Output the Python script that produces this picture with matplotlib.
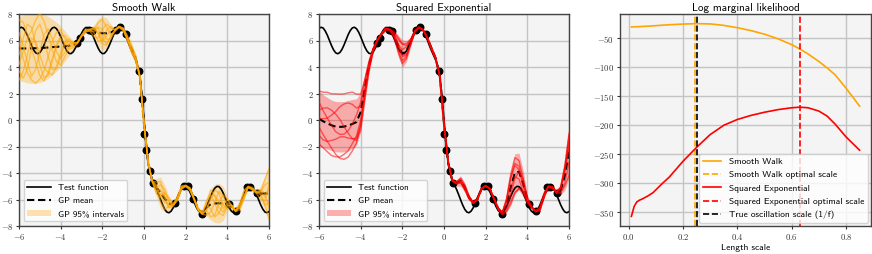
import numpy as np
import matplotlib
matplotlib.use("Agg")
import matplotlib.pyplot as plt
from matplotlib.ticker import FuncFormatter

plt.rcParams.update({
    "font.family": "cmss10",
    "mathtext.fontset": "cm",
    "axes.unicode_minus": False,
})

# ---------------- data ----------------
# test function on x = -6 .. 6 (step 0.1)
x_test = np.linspace(-6, 6, 121)
f_test = [
    6.91, 7.00, 6.94, 6.72, 6.40, 6.01, 5.62, 5.29, 5.07, 5.00,
    5.09, 5.32, 5.66, 6.05, 6.44, 6.75, 6.95, 7.00, 6.89, 6.64,
    6.29, 5.89, 5.51, 5.21, 5.03, 5.01, 5.14, 5.41, 5.77, 6.17,
    6.54, 6.82, 6.98, 6.98, 6.83, 6.54, 6.17, 5.78, 5.42, 5.15,
    5.01, 5.03, 5.21, 5.51, 5.88, 6.28, 6.63, 6.88, 7.00, 6.95,
    6.75, 6.43, 6.04, 5.62, 5.23, 4.88, 4.53, 4.07, 3.27, 1.89,
    0.00,
    -1.89, -3.27, -4.07, -4.53, -4.88, -5.23, -5.62, -6.04, -6.43, -6.75,
    -6.95, -7.00, -6.88, -6.63, -6.28, -5.88, -5.51, -5.21, -5.03, -5.01,
    -5.15, -5.42, -5.78, -6.17, -6.54, -6.83, -6.98, -6.98, -6.82, -6.54,
    -6.17, -5.77, -5.41, -5.14, -5.01, -5.03, -5.21, -5.51, -5.89, -6.29,
    -6.64, -6.89, -7.00, -6.95, -6.75, -6.44, -6.05, -5.66, -5.32, -5.09,
    -5.00, -5.07, -5.29, -5.62, -6.01, -6.40, -6.72, -6.94, -7.00, -6.91,
]

# observed data points
x_obs = [-3.2, -3.05, -2.65, -2.5, -1.35, -1.15, -0.88, -0.23, -0.09, 0.02,
         0.1, 0.29, 0.45, 1.49, 1.9, 2.12, 2.37, 2.77, 4.1, 4.4, 4.95, 5.08, 5.42]
y_obs = [5.82, 6.2, 6.78, 6.7, 6.8, 7.03, 6.48, 3.68, 1.58, -1.05,
         -2.3, -3.86, -4.72, -6.3, -4.97, -4.97, -5.95, -7.1, -6.37, -6.87, -5.04, -5.06, -5.5]

# GP prediction grid x = -6 .. 6 (step 0.2)
x_gp = np.linspace(-6, 6, 61)

# Smooth Walk kernel: mean and 95% half-width
sw_mean = [
    5.40, 5.40, 5.40, 5.41, 5.42, 5.43, 5.45, 5.47, 5.50, 5.52,
    5.55, 5.57, 5.60, 5.65, 5.82, 6.35, 6.75, 6.78, 6.68, 6.60,
    6.55, 6.55, 6.60, 6.75, 7.02, 6.85, 6.20, 5.40, 4.65, 3.30,
    -0.30, -3.20, -4.65, -5.10, -5.50, -5.95, -6.30, -6.40, -5.90, -5.10,
    -4.97, -5.20, -5.95, -6.75, -7.05, -6.60, -6.35, -6.30, -6.28, -6.30,
    -6.33, -6.50, -6.88, -6.50, -5.60, -5.04, -5.20, -5.48, -5.55, -5.55,
    -5.55,
]
sw_half = [
    2.40, 2.50, 2.60, 2.65, 2.65, 2.60, 2.50, 2.35, 2.10, 1.85,
    1.55, 1.15, 0.75, 0.35, 0.08, 0.10, 0.15, 0.10, 0.50, 1.05,
    1.30, 1.15, 0.65, 0.12, 0.08, 0.15, 0.30, 0.50, 0.35, 0.08,
    0.08, 0.10, 0.08, 0.70, 1.20, 1.00, 0.55, 0.12, 0.20, 0.20,
    0.08, 0.15, 0.08, 0.15, 0.10, 0.65, 1.20, 1.45, 1.50, 1.30,
    0.55, 0.15, 0.08, 0.40, 0.45, 0.08, 0.15, 0.10, 0.55, 1.30,
    2.10,
]
# Smooth Walk posterior samples, as offsets in units of the half-width
sw_s1 = [0.5, 0.1, -0.4, -0.8, -0.6, -0.1, 0.4, 0.6, 0.3, -0.2,
         -0.6, -0.4, 0.2, 0.6, 0.3, -0.2, -0.5, -0.3, 0.3, 0.7,
         0.8, 0.4, -0.3, -0.6, -0.2, 0.4, 0.6, 0.2, -0.3, -0.5,
         -0.1, 0.4, 0.5, 0.1, -0.6, -0.8, -0.3, 0.3, 0.6, 0.2,
         -0.3, -0.6, -0.2, 0.4, 0.7, 0.3, -0.3, -0.7, -0.5, 0.0,
         0.5, 0.6, 0.2, -0.3, -0.6, -0.2, 0.3, 0.7, 0.5, 0.0,
         -0.5]
sw_s2 = [-0.7, -0.9, -0.6, 0.0, 0.5, 0.7, 0.3, -0.3, -0.8, -0.9,
         -0.5, 0.1, 0.5, 0.3, -0.2, -0.6, -0.3, 0.2, 0.6, 0.3,
         -0.3, -0.7, -0.5, 0.1, 0.5, 0.3, -0.2, -0.6, -0.4, 0.2,
         0.6, 0.3, -0.3, -0.7, -0.3, 0.4, 0.8, 0.5, 0.0, -0.5,
         -0.7, -0.2, 0.4, 0.7, 0.3, -0.4, -0.8, -0.6, 0.0, 0.5,
         0.7, 0.2, -0.4, -0.7, -0.3, 0.3, 0.8, 0.6, 0.0, -0.6,
         -0.9]
sw_s3 = [0.9, 0.8, 0.4, 0.0, -0.4, -0.8, -1.0, -0.8, -0.4, 0.1,
         0.5, 0.7, 0.4, -0.1, -0.5, -0.2, 0.3, 0.6, 0.4, -0.1,
         -0.6, -0.8, -0.4, 0.2, 0.6, 0.4, -0.1, -0.5, -0.3, 0.3,
         0.7, 0.5, 0.0, -0.4, -0.1, 0.5, 0.3, -0.3, -0.7, -0.4,
         0.2, 0.7, 0.6, 0.0, -0.6, -0.9, -0.5, 0.1, 0.6, 0.4,
         -0.1, -0.6, -0.4, 0.2, 0.7, 0.5, -0.1, -0.6, -0.8, -0.4,
         0.3]
sw_s4 = [-0.2, 0.3, 0.7, 0.6, 0.1, -0.5, -0.9, -0.9, -0.5, 0.0,
         0.4, 0.2, -0.3, -0.6, -0.2, 0.4, 0.7, 0.3, -0.2, -0.6,
         -0.4, 0.2, 0.7, 0.5, 0.0, -0.5, -0.4, 0.2, 0.6, 0.4,
         -0.2, -0.6, -0.5, 0.0, 0.5, 0.7, 0.2, -0.4, -0.6, -0.2,
         0.4, 0.5, 0.0, -0.5, -0.8, -0.4, 0.3, 0.7, 0.5, -0.1,
         -0.6, -0.5, 0.1, 0.6, 0.5, 0.0, -0.5, -0.3, 0.3, 0.8,
         0.9]
sw_s5 = [0.2, -0.3, -0.7, -0.9, -1.0, -0.9, -0.7, -0.3, 0.2, 0.6,
         0.8, 0.5, 0.0, -0.4, -0.6, -0.2, 0.3, 0.7, 0.5, 0.0,
         -0.5, -0.2, 0.4, 0.7, 0.4, -0.2, -0.7, -0.5, 0.1, 0.6,
         0.3, -0.3, -0.6, -0.4, 0.2, 0.0, -0.6, -0.8, -0.3, 0.3,
         0.7, 0.3, -0.3, -0.6, -0.2, 0.6, 0.9, 0.4, -0.2, -0.5,
         -0.2, 0.4, 0.7, 0.3, -0.3, -0.7, -0.6, -0.2, 0.2, 0.5,
         0.4]
sw_s6 = [-0.5, -0.1, 0.3, 0.5, 0.8, 1.0, 0.8, 0.4, -0.1, -0.6,
         -0.9, -0.7, -0.2, 0.3, 0.6, 0.3, -0.2, -0.7, -0.8, -0.4,
         0.2, 0.6, 0.6, 0.2, -0.4, -0.6, -0.2, 0.4, 0.5, 0.0,
         -0.5, -0.4, 0.2, 0.6, 0.7, 0.2, -0.5, -0.2, 0.4, 0.7,
         0.3, -0.4, -0.7, -0.3, 0.2, 0.8, 0.6, 0.0, -0.5, -0.7,
         -0.3, 0.3, 0.6, 0.2, -0.4, -0.4, 0.2, 0.4, -0.2, -0.7,
         -0.3]
sw_s7 = [-1.0, -0.7, -0.2, 0.3, 0.2, -0.2, -0.6, -0.8, -1.0, -0.8,
         -0.3, 0.3, 0.7, 0.5, 0.0, -0.5, -0.8, -0.5, 0.0, 0.4,
         0.2, -0.4, -0.8, -0.3, 0.3, 0.7, 0.4, -0.2, -0.7, -0.6,
         0.0, 0.6, 0.7, 0.3, -0.2, -0.3, 0.0, -0.5, -0.9, -0.6,
         -0.1, 0.3, 0.7, 0.4, -0.3, -0.2, 0.5, 0.4, 0.1, -0.3,
         0.1, 0.6, 0.4, -0.2, -0.7, -0.6, 0.0, 0.5, 0.3, -0.2,
         0.2]

# Squared Exponential kernel: mean and 95% half-width
se_mean = [
    0.10, -0.10, -0.25, -0.40, -0.50, -0.52, -0.50, -0.42, -0.30, -0.15,
    0.60, 2.40, 4.10, 5.30, 6.00, 6.50, 6.85, 6.80, 6.40, 5.60,
    5.00, 5.20, 5.90, 6.70, 7.00, 6.80, 6.20, 5.40, 4.65, 3.30,
    -0.30, -3.20, -4.60, -4.75, -4.60, -5.10, -5.85, -6.25, -6.00, -5.20,
    -4.97, -5.20, -5.95, -6.70, -7.05, -6.40, -5.10, -4.00, -3.90, -4.80,
    -6.00, -6.55, -6.88, -6.70, -5.70, -5.04, -5.10, -5.48, -5.30, -4.20,
    -2.40,
]
se_half = [
    2.10, 2.00, 1.95, 1.90, 1.90, 1.90, 1.90, 1.90, 1.85, 1.75,
    1.50, 1.05, 0.60, 0.25, 0.08, 0.10, 0.15, 0.10, 0.35, 0.80,
    1.05, 0.80, 0.35, 0.10, 0.08, 0.10, 0.15, 0.20, 0.15, 0.08,
    0.08, 0.10, 0.08, 0.25, 0.40, 0.35, 0.20, 0.08, 0.10, 0.10,
    0.08, 0.10, 0.08, 0.10, 0.10, 0.50, 1.10, 1.45, 1.40, 1.00,
    0.35, 0.10, 0.08, 0.20, 0.25, 0.08, 0.10, 0.08, 0.35, 1.10,
    2.00,
]
se_s1 = [-0.9, -1.0, -1.1, -1.2, -1.2, -1.2, -1.1, -1.0, -0.8, -0.6,
         -0.4, -0.2, 0.0, 0.2, 0.3, 0.4, 0.4, 0.4, 0.5, 0.6,
         0.7, 0.7, 0.6, 0.5, 0.4, 0.3, 0.2, 0.1, 0.0, -0.1,
         -0.2, -0.3, -0.3, -0.2, 0.0, 0.3, 0.5, 0.6, 0.5, 0.3,
         0.1, -0.1, -0.3, -0.5, -0.7, -0.9, -1.0, -1.0, -0.9, -0.7,
         -0.5, -0.3, -0.1, 0.1, 0.3, 0.5, 0.7, 0.8, 0.8, 0.7,
         0.6]
se_s2 = [1.0, 1.1, 1.2, 1.25, 1.3, 1.3, 1.3, 1.3, 1.3, 1.2,
         0.9, 0.6, 0.4, 0.2, 0.1, 0.0, -0.1, -0.2, -0.3, -0.4,
         -0.5, -0.5, -0.4, -0.3, -0.2, 0.0, 0.1, 0.2, 0.3, 0.4,
         0.4, 0.3, 0.2, 0.1, 0.0, -0.1, -0.2, -0.3, -0.3, -0.2,
         0.0, 0.2, 0.4, 0.6, 0.8, 0.9, 0.9, 0.8, 0.6, 0.4,
         0.2, 0.0, -0.2, -0.4, -0.5, -0.6, -0.7, -0.7, -0.6, -0.5,
         -0.4]
se_s3 = [-0.3, -0.5, -0.7, -0.9, -1.1, -1.25, -1.3, -1.25, -1.1, -0.9,
         -0.6, -0.3, 0.0, 0.3, 0.5, 0.6, 0.6, 0.5, 0.3, 0.1,
         -0.1, -0.3, -0.4, -0.4, -0.3, -0.2, 0.0, 0.2, 0.4, 0.5,
         0.5, 0.4, 0.2, 0.0, -0.2, -0.4, -0.5, -0.5, -0.4, -0.2,
         0.0, 0.3, 0.5, 0.7, 0.8, 0.8, 0.7, 0.5, 0.3, 0.1,
         -0.1, -0.3, -0.4, -0.4, -0.3, -0.1, 0.1, 0.3, 0.5, 0.6,
         0.7]
se_s4 = [0.6, 0.4, 0.2, 0.0, -0.2, -0.3, -0.3, -0.2, 0.0, 0.3,
         0.5, 0.6, 0.6, 0.5, 0.3, 0.1, -0.1, -0.3, -0.5, -0.6,
         -0.7, -0.7, -0.6, -0.4, -0.2, 0.0, 0.2, 0.4, 0.5, 0.5,
         0.4, 0.2, 0.0, -0.2, -0.4, -0.5, -0.5, -0.4, -0.2, 0.0,
         0.2, 0.4, 0.5, 0.5, 0.4, 0.2, 0.0, -0.2, -0.4, -0.6,
         -0.8, -0.9, -0.9, -0.8, -0.6, -0.4, -0.2, 0.0, 0.2, 0.3,
         0.4]
se_s5 = [0.3, 0.5, 0.6, 0.6, 0.5, 0.3, 0.0, -0.3, -0.6, -0.8,
         -0.9, -0.8, -0.6, -0.3, 0.0, 0.3, 0.5, 0.7, 0.8, 0.8,
         0.7, 0.5, 0.3, 0.1, -0.1, -0.3, -0.5, -0.6, -0.6, -0.5,
         -0.3, -0.1, 0.1, 0.3, 0.5, 0.6, 0.6, 0.5, 0.3, 0.1,
         -0.1, -0.3, -0.5, -0.7, -0.9, -1.1, -1.2, -1.1, -0.9, -0.6,
         -0.3, 0.0, 0.3, 0.5, 0.7, 0.8, 0.8, 0.7, 0.5, 0.3,
         0.1]
se_s6 = [-0.6, -0.7, -0.7, -0.6, -0.5, -0.4, -0.4, -0.5, -0.6, -0.7,
         -0.7, -0.6, -0.4, -0.2, 0.0, 0.2, 0.3, 0.3, 0.2, 0.0,
         -0.2, -0.4, -0.5, -0.5, -0.4, -0.2, 0.0, 0.2, 0.3, 0.3,
         0.2, 0.0, -0.2, -0.3, -0.3, -0.2, 0.0, 0.2, 0.4, 0.5,
         0.5, 0.3, 0.0, -0.3, -0.5, -0.6, -0.5, -0.3, 0.0, 0.3,
         0.5, 0.6, 0.6, 0.5, 0.3, 0.1, -0.1, -0.3, -0.5, -0.7,
         -0.9]
se_s7 = [0.0, 0.1, 0.2, 0.4, 0.6, 0.8, 0.9, 0.9, 0.8, 0.6,
         0.3, 0.0, -0.3, -0.5, -0.6, -0.6, -0.5, -0.3, -0.1, 0.1,
         0.3, 0.4, 0.4, 0.3, 0.1, -0.1, -0.3, -0.4, -0.4, -0.3,
         -0.1, 0.1, 0.3, 0.4, 0.4, 0.3, 0.1, -0.1, -0.3, -0.4,
         -0.4, -0.2, 0.1, 0.4, 0.6, 0.7, 0.6, 0.4, 0.1, -0.2,
         -0.4, -0.5, -0.5, -0.3, 0.0, 0.3, 0.5, 0.6, 0.6, 0.5,
         0.3]

# log marginal likelihood vs length scale
length_scale = [0.01, 0.02, 0.03, 0.04, 0.05, 0.07, 0.09, 0.12, 0.15, 0.20,
                0.25, 0.30, 0.35, 0.40, 0.45, 0.50, 0.55, 0.60, 0.63, 0.66,
                0.70, 0.73, 0.76, 0.80, 0.85]
lml_sw = [-30.5, -30.3, -30.1, -29.9, -29.7, -29.2, -28.6, -27.6, -26.7, -25.5,
          -24.8, -25.3, -27.8, -31.8, -36.8, -43.0, -51.0, -61.0, -68.5, -77.0,
          -90.0, -101.0, -113.0, -136.0, -167.0]
lml_se = [-357.0, -340.0, -332.0, -329.0, -327.0, -322.0, -316.0, -302.0, -289.0, -262.0,
          -238.0, -216.0, -200.0, -190.0, -183.0, -177.5, -173.0, -169.8, -168.8, -169.8,
          -175.5, -184.0, -198.0, -220.0, -243.0]
sw_opt = 0.245
se_opt = 0.632
true_scale = 0.25

# ---------------- plotting ----------------
W, H = 872, 254
fig = plt.figure(figsize=(W / 100, H / 100), dpi=100)

int_fmt = FuncFormatter(lambda v, p: "$%g$" % v)
dec_fmt = FuncFormatter(lambda v, p: "$%.1f$" % v)

def style(ax):
    ax.set_facecolor("#f4f4f4")
    ax.set_axisbelow(True)
    ax.grid(True, color="#c4c4c4", lw=1.0)
    for s in ax.spines.values():
        s.set_color("#444444")
        s.set_linewidth(1.0)
    ax.tick_params(labelsize=6.2, length=2.5, width=0.8, colors="#333333", pad=1.5)

def gp_panel(ax, mean, half, samples, color, title):
    mean = np.asarray(mean)
    half = np.asarray(half)
    band = ax.fill_between(x_gp, mean - half, mean + half, color=color, alpha=0.3, lw=0)
    tl, = ax.plot(x_test, f_test, color="black", lw=1.2)
    ml, = ax.plot(x_gp, mean, color="black", ls="--", lw=1.5, dashes=(3.5, 1.8))
    ax.scatter(x_obs, y_obs, s=22, color="black", zorder=3)
    for z in samples:
        ax.plot(x_gp, mean + np.asarray(z) * half, color=color, lw=1.0, alpha=0.55, zorder=4)
    ax.set_xlim(-6, 6)
    ax.set_ylim(-8, 8)
    ax.set_title(title, fontsize=8, pad=2)
    style(ax)
    ax.xaxis.set_major_formatter(int_fmt)
    ax.yaxis.set_major_formatter(int_fmt)
    ax.legend([tl, ml, band], ["Test function", "GP mean", "GP 95% intervals"],
              loc="lower left", fontsize=6.5, borderaxespad=0.5, handlelength=2.6)

ax1 = fig.add_axes([19 / W, 1 - 226 / H, 250 / W, 212 / H])
gp_panel(ax1, sw_mean, sw_half, [sw_s1, sw_s2, sw_s3, sw_s4, sw_s5, sw_s6, sw_s7],
         "orange", "Smooth Walk")

ax2 = fig.add_axes([319 / W, 1 - 226 / H, 250 / W, 212 / H])
gp_panel(ax2, se_mean, se_half, [se_s1, se_s2, se_s3, se_s4, se_s5, se_s6, se_s7],
         "red", "Squared Exponential")

ax3 = fig.add_axes([620 / W, 1 - 226 / H, 251 / W, 212 / H])
ax3.plot(length_scale, lml_sw, color="orange", lw=1.2, label="Smooth Walk")
ax3.axvline(sw_opt, color="orange", ls="--", lw=1.2, label="Smooth Walk optimal scale")
ax3.plot(length_scale, lml_se, color="red", lw=1.2, label="Squared Exponential")
ax3.axvline(se_opt, color="red", ls="--", lw=1.2, label="Squared Exponential optimal scale")
ax3.axvline(true_scale, color="black", ls="--", lw=1.2, label="True oscillation scale (1/f)")
ax3.set_title("Log marginal likelihood", fontsize=8, pad=2)
ax3.set_xlabel("Length scale", fontsize=6.8, labelpad=2)
style(ax3)
ax3.xaxis.set_major_formatter(dec_fmt)
ax3.yaxis.set_major_formatter(int_fmt)
ax3.legend(loc="lower right", fontsize=6.8, borderaxespad=0.3)

fig.savefig("out.png", dpi=100)
